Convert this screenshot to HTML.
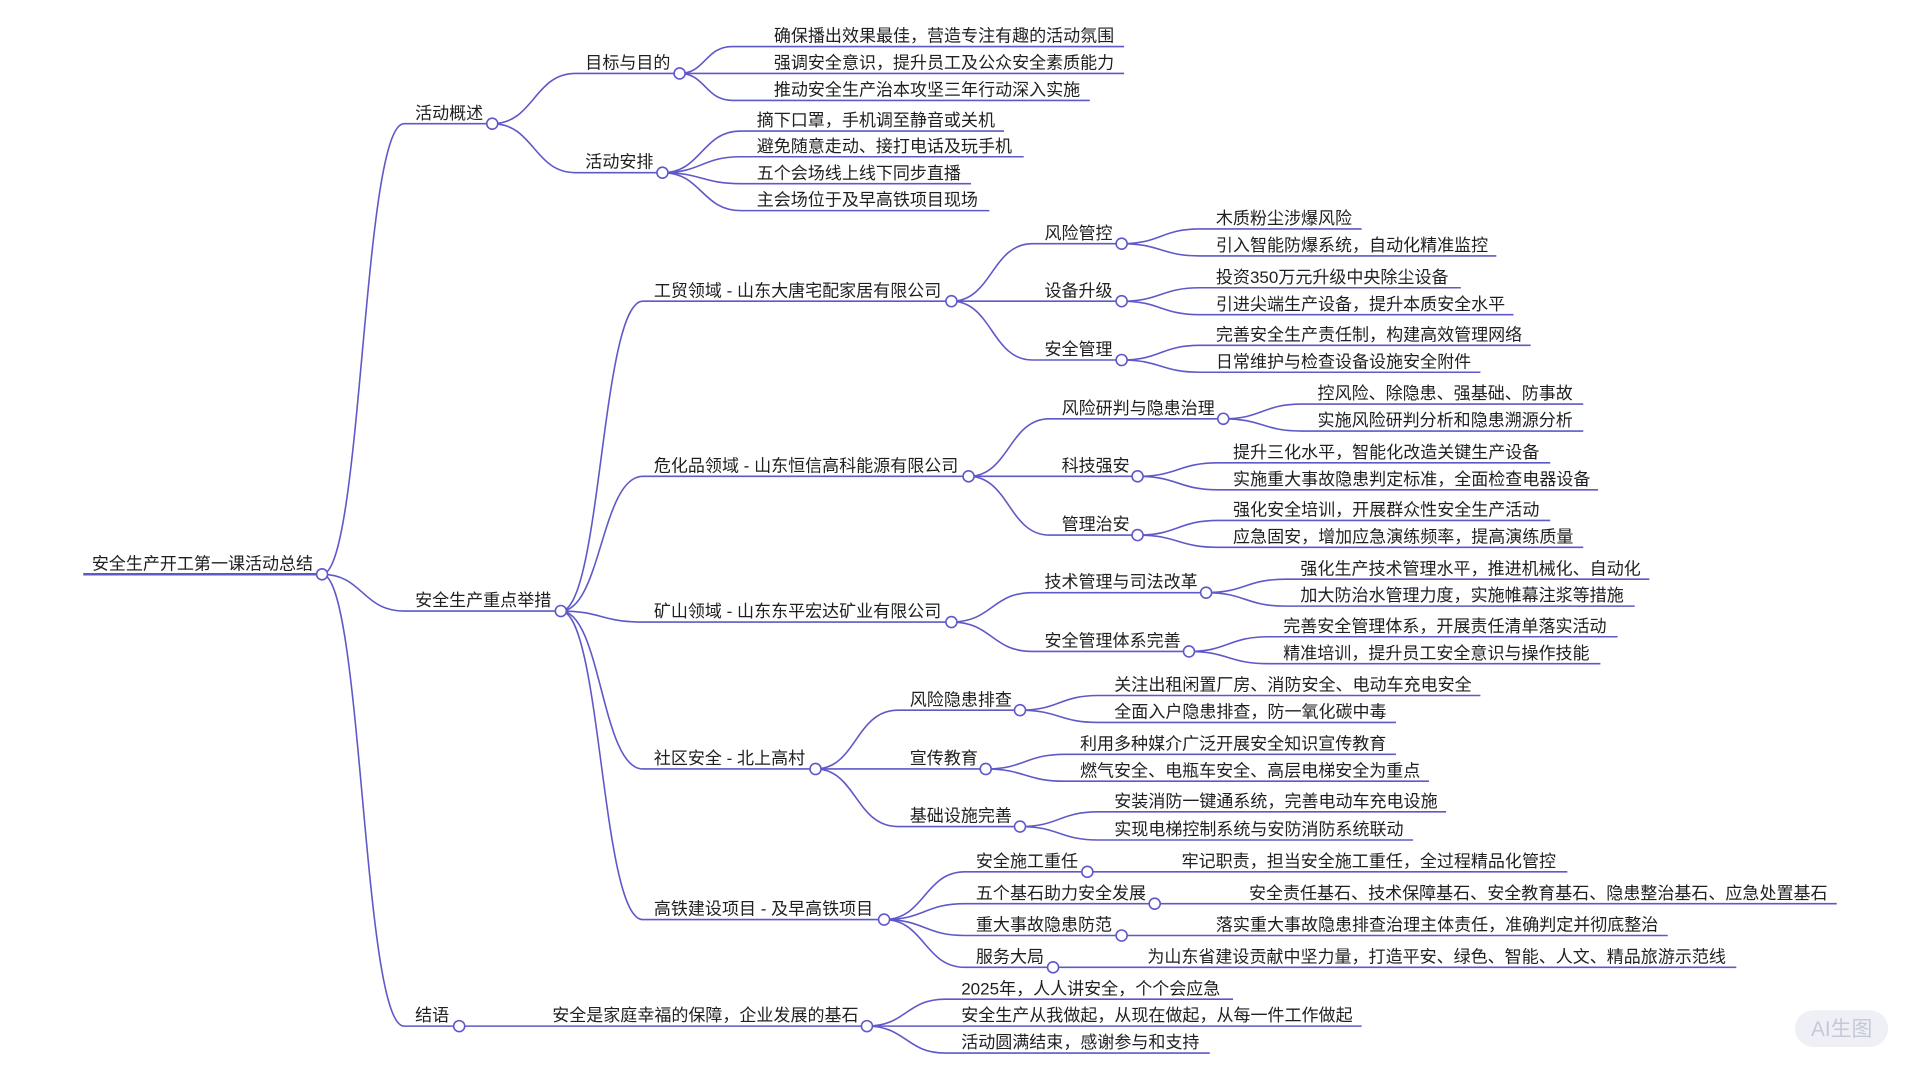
<!DOCTYPE html>
<html><head><meta charset="utf-8"><style>
html,body{margin:0;padding:0;background:#fff;}
svg{display:block}
text{font-family:"Liberation Sans","Noto Sans CJK SC",sans-serif;font-size:13.9px;fill:#1f1f1f;}
path{fill:none;stroke:#5f58c8;stroke-width:1.3;}
circle{fill:#fff;stroke:#5f58c8;stroke-width:1.3;}
</style></head><body>
<svg width="1920" height="1080" viewBox="0 0 1568 882" xmlns="http://www.w3.org/2000/svg">
<g transform="translate(0,0)">
<path d="M68,469 H263" style="stroke-width:2"/>
<path d="M263,469 C296,469 296,101 330,101 H402"/>
<path d="M263,469 C296,469 296,499 330,499 H458"/>
<path d="M263,469 C296,469 296,838 330,838 H375"/>
<path d="M402,101 C436,101 436,60 470,60 H555"/>
<path d="M402,101 C436,101 436,141 470,141 H541"/>
<path d="M555,60 C576,60 576,38 598,38 H918"/>
<path d="M555,60 C576,60 576,60 598,60 H918"/>
<path d="M555,60 C576,60 576,82 598,82 H890"/>
<path d="M541,141 C573,141 573,107 605,107 H820"/>
<path d="M541,141 C573,141 573,128 605,128 H836"/>
<path d="M541,141 C573,141 573,150 605,150 H793"/>
<path d="M541,141 C573,141 573,172 605,172 H808"/>
<path d="M458,499 C491,499 491,246 525,246 H777"/>
<path d="M458,499 C491,499 491,389 525,389 H791"/>
<path d="M458,499 C491,499 491,508 525,508 H777"/>
<path d="M458,499 C491,499 491,628 525,628 H666"/>
<path d="M458,499 C491,499 491,751 525,751 H722"/>
<path d="M777,246 C810,246 810,199 843,199 H916"/>
<path d="M777,246 C810,246 810,246 843,246 H916"/>
<path d="M777,246 C810,246 810,294 843,294 H916"/>
<path d="M916,199 C948,199 948,187 980,187 H1112"/>
<path d="M916,199 C948,199 948,209 980,209 H1222"/>
<path d="M916,246 C948,246 948,235 980,235 H1193"/>
<path d="M916,246 C948,246 948,257 980,257 H1236"/>
<path d="M916,294 C948,294 948,282 980,282 H1250"/>
<path d="M916,294 C948,294 948,304 980,304 H1209"/>
<path d="M791,389 C824,389 824,342 857,342 H999"/>
<path d="M791,389 C824,389 824,389 857,389 H929"/>
<path d="M791,389 C824,389 824,437 857,437 H929"/>
<path d="M999,342 C1031,342 1031,330 1063,330 H1293"/>
<path d="M999,342 C1031,342 1031,352 1063,352 H1293"/>
<path d="M929,389 C962,389 962,378 995,378 H1266"/>
<path d="M929,389 C962,389 962,400 995,400 H1305"/>
<path d="M929,437 C962,437 962,425 995,425 H1266"/>
<path d="M929,437 C962,437 962,447 995,447 H1293"/>
<path d="M777,508 C810,508 810,484 843,484 H985"/>
<path d="M777,508 C810,508 810,532 843,532 H971"/>
<path d="M985,484 C1017,484 1017,473 1050,473 H1347"/>
<path d="M985,484 C1017,484 1017,495 1050,495 H1335"/>
<path d="M971,532 C1003,532 1003,520 1036,520 H1321"/>
<path d="M971,532 C1003,532 1003,542 1036,542 H1307"/>
<path d="M666,628 C699,628 699,580 733,580 H833"/>
<path d="M666,628 C699,628 699,628 733,628 H805"/>
<path d="M666,628 C699,628 699,675 733,675 H833"/>
<path d="M833,580 C865,580 865,568 897,568 H1209"/>
<path d="M833,580 C865,580 865,590 897,590 H1140"/>
<path d="M805,628 C837,628 837,616 870,616 H1140"/>
<path d="M805,628 C837,628 837,638 870,638 H1167"/>
<path d="M833,675 C865,675 865,663 897,663 H1181"/>
<path d="M833,675 C865,675 865,686 897,686 H1154"/>
<path d="M722,751 C755,751 755,712 788,712 H888 H1280"/>
<path d="M722,751 C755,751 755,738 788,738 H943 H1500"/>
<path d="M722,751 C755,751 755,764 788,764 H916 H1362"/>
<path d="M722,751 C755,751 755,790 788,790 H860 H1418"/>
<path d="M375,838 C409,838 409,838 443,838 H708"/>
<path d="M708,838 C740,838 740,816 772,816 H1007"/>
<path d="M708,838 C740,838 740,838 772,838 H1112"/>
<path d="M708,838 C740,838 740,860 772,860 H988"/>
</g>
<g transform="translate(0,1)">
<text x="75" y="464">安全生产开工第一课活动总结</text>
<text x="339" y="96">活动概述</text>
<text x="339" y="494">安全生产重点举措</text>
<text x="339" y="833">结语</text>
<text x="478" y="55">目标与目的</text>
<text x="478" y="136">活动安排</text>
<text x="632" y="33">确保播出效果最佳，营造专注有趣的活动氛围</text>
<text x="632" y="55">强调安全意识，提升员工及公众安全素质能力</text>
<text x="632" y="77">推动安全生产治本攻坚三年行动深入实施</text>
<text x="618" y="102">摘下口罩，手机调至静音或关机</text>
<text x="618" y="123">避免随意走动、接打电话及玩手机</text>
<text x="618" y="145">五个会场线上线下同步直播</text>
<text x="618" y="167">主会场位于及早高铁项目现场</text>
<text x="534" y="241">工贸领域 - 山东大唐宅配家居有限公司</text>
<text x="534" y="384">危化品领域 - 山东恒信高科能源有限公司</text>
<text x="534" y="503">矿山领域 - 山东东平宏达矿业有限公司</text>
<text x="534" y="623">社区安全 - 北上高村</text>
<text x="534" y="746">高铁建设项目 - 及早高铁项目</text>
<text x="853" y="194">风险管控</text>
<text x="853" y="241">设备升级</text>
<text x="853" y="289">安全管理</text>
<text x="993" y="182">木质粉尘涉爆风险</text>
<text x="993" y="204">引入智能防爆系统，自动化精准监控</text>
<text x="993" y="230">投资350万元升级中央除尘设备</text>
<text x="993" y="252">引进尖端生产设备，提升本质安全水平</text>
<text x="993" y="277">完善安全生产责任制，构建高效管理网络</text>
<text x="993" y="299">日常维护与检查设备设施安全附件</text>
<text x="867" y="337">风险研判与隐患治理</text>
<text x="867" y="384">科技强安</text>
<text x="867" y="432">管理治安</text>
<text x="1076" y="325">控风险、除隐患、强基础、防事故</text>
<text x="1076" y="347">实施风险研判分析和隐患溯源分析</text>
<text x="1007" y="373">提升三化水平，智能化改造关键生产设备</text>
<text x="1007" y="395">实施重大事故隐患判定标准，全面检查电器设备</text>
<text x="1007" y="420">强化安全培训，开展群众性安全生产活动</text>
<text x="1007" y="442">应急固安，增加应急演练频率，提高演练质量</text>
<text x="853" y="479">技术管理与司法改革</text>
<text x="853" y="527">安全管理体系完善</text>
<text x="1062" y="468">强化生产技术管理水平，推进机械化、自动化</text>
<text x="1062" y="490">加大防治水管理力度，实施帷幕注浆等措施</text>
<text x="1048" y="515">完善安全管理体系，开展责任清单落实活动</text>
<text x="1048" y="537">精准培训，提升员工安全意识与操作技能</text>
<text x="743" y="575">风险隐患排查</text>
<text x="743" y="623">宣传教育</text>
<text x="743" y="670">基础设施完善</text>
<text x="910" y="563">关注出租闲置厂房、消防安全、电动车充电安全</text>
<text x="910" y="585">全面入户隐患排查，防一氧化碳中毒</text>
<text x="882" y="611">利用多种媒介广泛开展安全知识宣传教育</text>
<text x="882" y="633">燃气安全、电瓶车安全、高层电梯安全为重点</text>
<text x="910" y="658">安装消防一键通系统，完善电动车充电设施</text>
<text x="910" y="681">实现电梯控制系统与安防消防系统联动</text>
<text x="797" y="707">安全施工重任</text>
<text x="797" y="733">五个基石助力安全发展</text>
<text x="797" y="759">重大事故隐患防范</text>
<text x="797" y="785">服务大局</text>
<text x="965" y="707">牢记职责，担当安全施工重任，全过程精品化管控</text>
<text x="1020" y="733">安全责任基石、技术保障基石、安全教育基石、隐患整治基石、应急处置基石</text>
<text x="993" y="759">落实重大事故隐患排查治理主体责任，准确判定并彻底整治</text>
<text x="937" y="785">为山东省建设贡献中坚力量，打造平安、绿色、智能、人文、精品旅游示范线</text>
<text x="451" y="833">安全是家庭幸福的保障，企业发展的基石</text>
<text x="785" y="811">2025年，人人讲安全，个个会应急</text>
<text x="785" y="833">安全生产从我做起，从现在做起，从每一件工作做起</text>
<text x="785" y="855">活动圆满结束，感谢参与和支持</text>
</g>
<circle cx="263" cy="469" r="4.5"/>
<circle cx="402" cy="101" r="4.5"/>
<circle cx="458" cy="499" r="4.5"/>
<circle cx="375" cy="838" r="4.5"/>
<circle cx="555" cy="60" r="4.5"/>
<circle cx="541" cy="141" r="4.5"/>
<circle cx="777" cy="246" r="4.5"/>
<circle cx="791" cy="389" r="4.5"/>
<circle cx="777" cy="508" r="4.5"/>
<circle cx="666" cy="628" r="4.5"/>
<circle cx="722" cy="751" r="4.5"/>
<circle cx="916" cy="199" r="4.5"/>
<circle cx="916" cy="246" r="4.5"/>
<circle cx="916" cy="294" r="4.5"/>
<circle cx="999" cy="342" r="4.5"/>
<circle cx="929" cy="389" r="4.5"/>
<circle cx="929" cy="437" r="4.5"/>
<circle cx="985" cy="484" r="4.5"/>
<circle cx="971" cy="532" r="4.5"/>
<circle cx="833" cy="580" r="4.5"/>
<circle cx="805" cy="628" r="4.5"/>
<circle cx="833" cy="675" r="4.5"/>
<circle cx="888" cy="712" r="4.5"/>
<circle cx="943" cy="738" r="4.5"/>
<circle cx="916" cy="764" r="4.5"/>
<circle cx="860" cy="790" r="4.5"/>
<circle cx="708" cy="838" r="4.5"/>
<rect x="1466" y="825" width="76" height="30" rx="15" style="fill:#eef0f6;stroke:none"/>
<text x="1504" y="846" text-anchor="middle" style="font-size:17px;fill:#c5c8d6;">AI生图</text>
</svg>
</body></html>
